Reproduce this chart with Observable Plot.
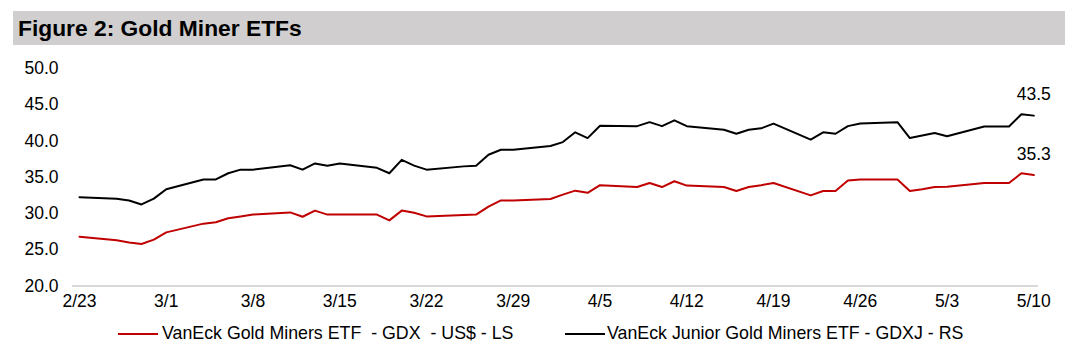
<!DOCTYPE html>
<html>
<head>
<meta charset="utf-8">
<script src="https://cdn.jsdelivr.net/npm/d3@7"></script>
<script src="https://cdn.jsdelivr.net/npm/@observablehq/plot@0.6"></script>
<style>
  html, body { margin: 0; padding: 0; background: #fff; }
  #wrap { position: relative; width: 1077px; height: 351px; font-family: "Liberation Sans", Arial, sans-serif; overflow: hidden; }
  #title { position: absolute; left: 13px; top: 11px; width: 1052px; height: 34px; background: #d0cecf; }
  #title span { position: absolute; left: 5px; top: 4px; font-weight: bold; font-size: 22.8px; color: #000; white-space: pre; }
  #chart { position: absolute; left: 0; top: 50px; }
  .leg { position: absolute; top: 322px; font-size: 17.8px; color: #000; white-space: pre; line-height: 22px; }
  .sw { position: absolute; height: 2px; top: 333px; width: 40px; }
</style>
</head>
<body>
<div id="wrap">
  <div id="title"><span>Figure 2: Gold Miner ETFs</span></div>
  <div id="chart"></div>
  <div class="sw" style="left:118px;background:#c00000"></div>
  <div class="leg" style="left:162px">VanEck Gold Miners ETF  - GDX  - US$ - LS</div>
  <div class="sw" style="left:565px;background:#000"></div>
  <div class="leg" style="left:607px">VanEck Junior Gold Miners ETF - GDXJ - RS</div>
</div>
<script>
const dates = [
  "2024-02-23","2024-02-26","2024-02-27","2024-02-28","2024-02-29",
  "2024-03-01","2024-03-04","2024-03-05","2024-03-06","2024-03-07","2024-03-08",
  "2024-03-11","2024-03-12","2024-03-13","2024-03-14","2024-03-15",
  "2024-03-18","2024-03-19","2024-03-20","2024-03-21","2024-03-22",
  "2024-03-25","2024-03-26","2024-03-27","2024-03-28","2024-03-29",
  "2024-04-01","2024-04-02","2024-04-03","2024-04-04","2024-04-05",
  "2024-04-08","2024-04-09","2024-04-10","2024-04-11","2024-04-12",
  "2024-04-15","2024-04-16","2024-04-17","2024-04-18","2024-04-19",
  "2024-04-22","2024-04-23","2024-04-24","2024-04-25","2024-04-26",
  "2024-04-29","2024-04-30","2024-05-01","2024-05-02","2024-05-03",
  "2024-05-06","2024-05-07","2024-05-08","2024-05-09","2024-05-10"
];
const gdx = [
  26.8, 26.3, 26.0, 25.8, 26.4,
  27.4, 28.6, 28.8, 29.35, 29.6, 29.85,
  30.15, 29.55, 30.4, 29.85, 29.85,
  29.85, 29.05, 30.4, 30.1, 29.6,
  29.8, 29.85, 30.95, 31.8, 31.8,
  32.0, 32.6, 33.15, 32.85, 33.9,
  33.65, 34.2, 33.65, 34.45, 33.85,
  33.65, 33.1, 33.65, 33.9, 34.2,
  32.5, 33.1, 33.1, 34.55, 34.7,
  34.7, 33.1, 33.35, 33.65, 33.7,
  34.2, 34.2, 34.2, 35.55, 35.3
];
const gdxj = [
  32.25, 32.05, 31.8, 31.25, 32.05,
  33.35, 34.7, 34.7, 35.55, 36.05, 36.05,
  36.65, 36.05, 36.9, 36.6, 36.9,
  36.3, 35.55, 37.4, 36.6, 36.05,
  36.5, 36.6, 38.1, 38.8, 38.8,
  39.3, 39.85, 41.2, 40.4, 42.1,
  42.05, 42.6, 42.05, 42.85, 42.05,
  41.55, 41.0, 41.55, 41.75, 42.4,
  40.2, 41.2, 41.0, 42.05, 42.4,
  42.6, 40.4, 40.75, 41.1, 40.65,
  42.0, 42.0, 42.0, 43.7, 43.5
];
const seriesNames = ["GDX", "GDXJ"];
const seriesColors = ["#c00000", "#000000"];
const xTicks = ["2024-02-23","2024-03-01","2024-03-08","2024-03-15","2024-03-22","2024-03-29",
  "2024-04-05","2024-04-12","2024-04-19","2024-04-26","2024-05-03","2024-05-10"];
const yTicks = [20, 25, 30, 35, 40, 45, 50];

const parse = s => new Date(s + "T00:00:00Z");
const rows = [];
dates.forEach((d, i) => {
  rows.push({date: parse(d), value: gdx[i], series: seriesNames[0]});
  rows.push({date: parse(d), value: gdxj[i], series: seriesNames[1]});
});
const last = rows.slice(-2);
const DAY = 864e5;
const x0 = new Date(parse(dates[0]).getTime() - 0.565 * DAY);
const x1 = new Date(parse(dates[dates.length - 1]).getTime() + 0.38 * DAY);

const chart = Plot.plot({
  width: 1077,
  height: 270,
  marginLeft: 72,
  marginRight: 39,
  marginTop: 18,
  marginBottom: 34.5,
  style: {fontFamily: "'Liberation Sans', Arial, sans-serif", fontSize: "17.5px", color: "#000", background: "transparent"},
  x: {type: "utc", domain: [x0, x1], ticks: xTicks.map(parse), tickFormat: d3.utcFormat("%-m/%-d"), tickSize: 0, tickPadding: 9, label: null},
  y: {domain: [20, 50], ticks: yTicks, tickFormat: d3.format(".1f"), tickSize: 0, tickPadding: 14, label: null},
  color: {domain: seriesNames, range: seriesColors},
  marks: [
    Plot.ruleY([20], {stroke: "#d9d9d9", strokeWidth: 2}),
    Plot.line(rows, {x: "date", y: "value", z: "series", stroke: "series", strokeWidth: 2}),
    Plot.text(last, {x: "date", y: "value", text: d => d.value.toFixed(1), dy: -21, fill: "#000", fontSize: 17.5})
  ]
});
document.getElementById("chart").appendChild(chart);
</script>
</body>
</html>
